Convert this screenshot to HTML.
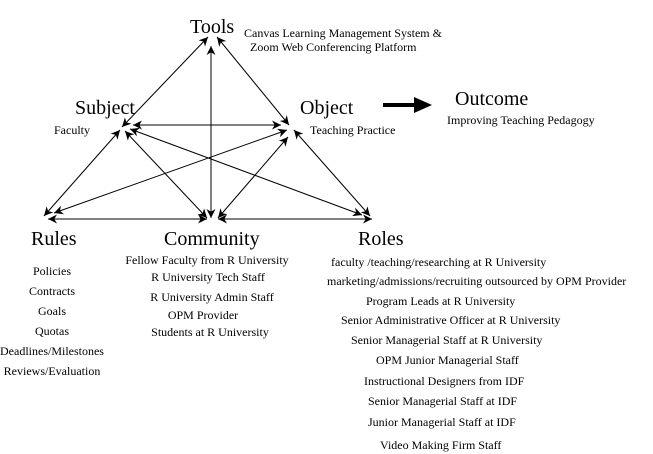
<!DOCTYPE html>
<html><head><style>
body{margin:0;background:#fff}
svg{display:block}
text{font-family:"Liberation Serif",serif;fill:#000}
.b{font-size:20px}
.s{font-size:12px}
</style></head><body>
<svg width="653" height="454" viewBox="0 0 653 454">
<defs>
<marker id="a" viewBox="0 0 10 10" refX="10" refY="5" markerWidth="9" markerHeight="9" orient="auto-start-reverse" markerUnits="userSpaceOnUse">
<path d="M0,0 L10,5 L0,10 L3,5 z" fill="#000"/></marker>
</defs>
<g stroke="#000" stroke-width="1" fill="none" marker-start="url(#a)" marker-end="url(#a)">
<line x1="122" y1="127" x2="208" y2="37"/>
<line x1="217" y1="37" x2="289" y2="125"/>
<line x1="211" y1="46" x2="211" y2="218"/>
<line x1="133" y1="125" x2="281" y2="125"/>
<line x1="120" y1="130" x2="44" y2="216"/>
<line x1="294" y1="130" x2="370" y2="216"/>
<line x1="125" y1="131" x2="207" y2="218"/>
<line x1="288" y1="137" x2="218" y2="218"/>
<line x1="130" y1="129" x2="362" y2="215"/>
<line x1="287" y1="130" x2="54" y2="213"/>
<line x1="48" y1="219" x2="207" y2="219"/>
<line x1="218" y1="219" x2="372" y2="219"/>
</g>
<line x1="383" y1="105" x2="418" y2="105" stroke="#000" stroke-width="4"/>
<path d="M414,97 L432,105 L414,113 z" fill="#000"/>
<text class="b" x="190" y="33">Tools</text>
<text class="s" x="244" y="37">Canvas Learning Management System &amp;</text>
<text class="s" x="250" y="51">Zoom Web Conferencing Platform</text>
<text class="b" x="75" y="114">Subject</text>
<text class="s" x="54" y="134">Faculty</text>
<text class="b" x="300" y="114">Object</text>
<text class="s" x="310" y="134">Teaching Practice</text>
<text class="b" x="455" y="105">Outcome</text>
<text class="s" x="447" y="124">Improving Teaching Pedagogy</text>
<text class="b" x="31" y="245">Rules</text>
<text class="b" x="164" y="245">Community</text>
<text class="b" x="358" y="245">Roles</text>
<g text-anchor="middle">
<text class="s" x="52" y="275">Policies</text>
<text class="s" x="52" y="295">Contracts</text>
<text class="s" x="52" y="315">Goals</text>
<text class="s" x="52" y="335">Quotas</text>
<text class="s" x="52" y="355">Deadlines/Milestones</text>
<text class="s" x="52" y="375">Reviews/Evaluation</text>
<text class="s" x="207" y="264">Fellow Faculty from R University</text>
<text class="s" x="208" y="281">R University Tech Staff</text>
<text class="s" x="212" y="301">R University Admin Staff</text>
<text class="s" x="203" y="319">OPM Provider</text>
<text class="s" x="210" y="336">Students at R University</text>
</g>
<text class="s" x="331" y="266">faculty /teaching/researching at R University</text>
<text class="s" x="327" y="285">marketing/admissions/recruiting outsourced by OPM Provider</text>
<text class="s" x="366" y="305">Program Leads at R University</text>
<text class="s" x="341" y="324">Senior Administrative Officer at R University</text>
<text class="s" x="351" y="344">Senior Managerial Staff at R University</text>
<text class="s" x="376" y="364">OPM Junior Managerial Staff</text>
<text class="s" x="364" y="385">Instructional Designers from IDF</text>
<text class="s" x="368" y="405">Senior Managerial Staff at IDF</text>
<text class="s" x="368" y="426">Junior Managerial Staff at IDF</text>
<text class="s" x="380" y="449">Video Making Firm Staff</text>
</svg>
</body></html>
